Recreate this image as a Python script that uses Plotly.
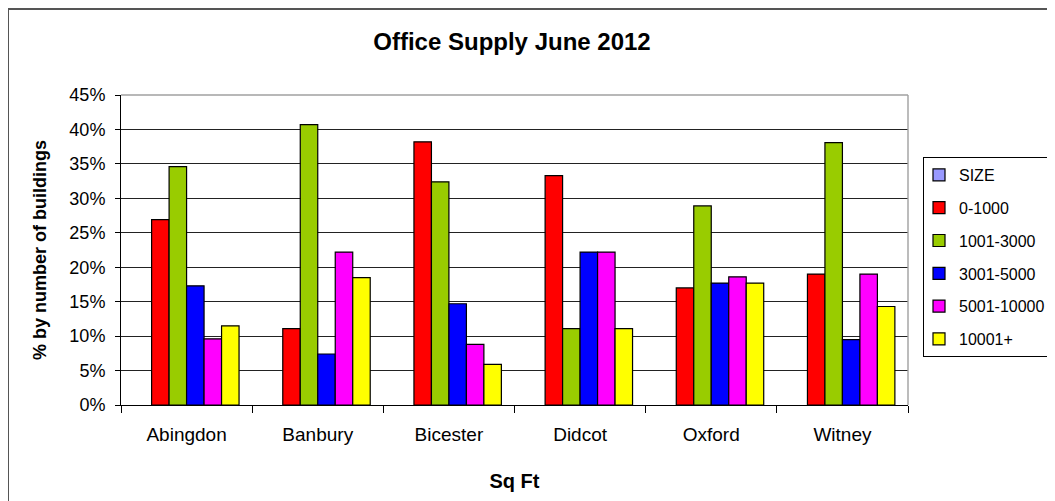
import plotly.graph_objects as go

categories = ["Abingdon", "Banbury", "Bicester", "Didcot", "Oxford", "Witney"]
series_names = ["SIZE", "0-1000", "1001-3000", "3001-5000", "5001-10000", "10001+"]
size_vals = [None, None, None, None, None, None]
v_0_1000 = [26.9, 11.1, 38.2, 33.3, 17.0, 19.0]
v_1001_3000 = [34.6, 40.7, 32.4, 11.1, 28.9, 38.1]
v_3001_5000 = [17.3, 7.4, 14.7, 22.2, 17.7, 9.5]
v_5001_10000 = [9.6, 22.2, 8.8, 22.2, 18.6, 19.0]
v_10001_plus = [11.5, 18.5, 5.9, 11.1, 17.7, 14.3]
colors = ["#9999FF", "#FF0000", "#99CC00", "#0000FF", "#FF00FF", "#FFFF00"]

all_vals = [size_vals, v_0_1000, v_1001_3000, v_3001_5000, v_5001_10000, v_10001_plus]

FONT = "Liberation Sans, Arial, sans-serif"

fig = go.Figure()
for name, vals, col in zip(series_names, all_vals, colors):
    fig.add_trace(go.Bar(
        x=categories, y=vals, name=name, legendgroup=name,
        marker=dict(color=col, line=dict(color="#000000", width=1.2)),
    ))

OFF = 8  # default page body margin
W, H = 1055 - OFF, 501 - OFF
L, R, T, B = 121, 908, 95, 405  # plot area in page pixels

def px_x(p):
    return (p - L) / (R - L)

def px_y(p):
    return (B - p) / (B - T)

fig.update_layout(
    width=W, height=H,
    margin=dict(l=L - OFF, r=W - (R - OFF), t=T - OFF, b=H - (B - OFF), autoexpand=False),
    paper_bgcolor="white", plot_bgcolor="white",
    barmode="group", bargap=0.2, bargroupgap=0,
    font=dict(family=FONT, size=17, color="#000000"),
    title=dict(text="<b>Office Supply June 2012</b>", x=px_x(512), xref="paper",
               xanchor="center", y=1 - (42 - OFF) / H, yanchor="middle",
               font=dict(family=FONT, size=24, color="#000000")),
    showlegend=True,
    legend=dict(x=px_x(923), y=px_y(157), xanchor="left", yanchor="top",
                bordercolor="#000000", borderwidth=1, bgcolor="white",
                font=dict(family=FONT, size=16, color="#000000"),
                tracegroupgap=9, traceorder="grouped", indentation=-5),
    xaxis=dict(
        showline=True, linecolor="#000000", linewidth=1,
        ticks="outside", ticklen=7, tickcolor="#000000", tickson="boundaries",
        tickfont=dict(family=FONT, size=19, color="#000000"),
        ticklabelstandoff=12,
        title=dict(text="<b>Sq Ft</b>", font=dict(family=FONT, size=20, color="#000000"),
                   standoff=30),
        showgrid=False,
    ),
    yaxis=dict(
        range=[0, 45], dtick=5, tick0=0, ticksuffix="%",
        showline=True, linecolor="#000000", linewidth=1,
        ticks="outside", ticklen=5, tickcolor="#000000",
        tickfont=dict(family=FONT, size=18, color="#000000"),
        ticklabelstandoff=6,
        showgrid=True, gridcolor="#222222", gridwidth=1.2,
        zeroline=False,
        title=dict(text="<b>% by number of buildings</b>",
                   font=dict(family=FONT, size=18, color="#000000"), standoff=18),
    ),
    shapes=[
        dict(type="line", xref="paper", yref="paper", x0=0, x1=1, y0=1, y1=1,
             line=dict(color="#A0A0A0", width=1.4)),
        dict(type="line", xref="paper", yref="paper", x0=1, x1=1, y0=0, y1=1,
             line=dict(color="#A0A0A0", width=1.4)),
        dict(type="rect", xref="paper", yref="paper",
             x0=px_x(8), x1=px_x(1080), y0=px_y(9), y1=px_y(540),
             line=dict(color="#555555", width=2), fillcolor="rgba(0,0,0,0)", layer="above"),
    ],
)

fig.write_html("out.html")
